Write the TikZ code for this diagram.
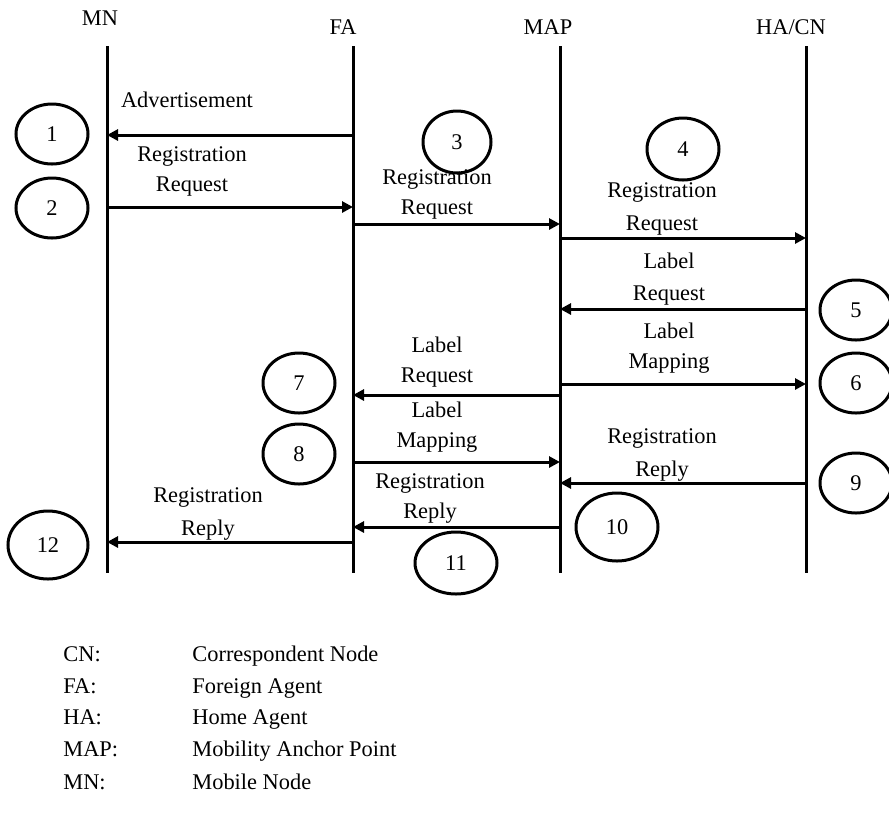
\documentclass[tikz,border=0pt]{standalone}
\usepackage{fontspec}
\setmainfont{Liberation Serif}
\usetikzlibrary{arrows.meta,shapes.geometric}
\begin{document}
\begin{tikzpicture}[x=0.5pt,y=-0.5pt,
  every node/.style={font=\fontsize{11.2}{15}\selectfont, inner sep=0pt},
  lifeline/.style={line width=1.5pt},
  msg/.style={line width=1.5pt, -{Triangle[length=5.5pt,width=5.5pt]}},
  lbl/.style={align=center},
  step circle/.style={draw, ellipse, line width=1.5pt, minimum width=36pt, minimum height=30pt},
  abbr/.style={anchor=base west}]
\useasboundingbox (0,0) rectangle (889,816);

% entity headers
\node (hMN) at (100,18) {MN};
\node (hFA) at (343,27) {FA};
\node (hMAP) at (548,27) {MAP};
\node (hHA) at (791,27) {HA/CN};

% lifelines
\coordinate (MN) at (107,46);  \coordinate (MNe) at (107,573);
\coordinate (FA) at (353,46);  \coordinate (FAe) at (353,573);
\coordinate (MAP) at (560,46); \coordinate (MAPe) at (560,573);
\coordinate (HA) at (806,46);  \coordinate (HAe) at (806,573);
\draw[lifeline] (MN) -- (MNe);
\draw[lifeline] (FA) -- (FAe);
\draw[lifeline] (MAP) -- (MAPe);
\draw[lifeline] (HA) -- (HAe);

% message levels
\coordinate (y1) at (0,135);
\coordinate (y2) at (0,207);
\coordinate (y3) at (0,224);
\coordinate (y4) at (0,238);
\coordinate (y5) at (0,309);
\coordinate (y6) at (0,384);
\coordinate (y7) at (0,395);
\coordinate (y8) at (0,462);
\coordinate (y9) at (0,483);
\coordinate (y10) at (0,527);
\coordinate (y11) at (0,542);

% messages
\draw[msg] (FA |- y1) -- (MN |- y1);
\draw[msg] (MN |- y2) -- (FA |- y2);
\draw[msg] (FA |- y3) -- (MAP |- y3);
\draw[msg] (MAP |- y4) -- (HA |- y4);
\draw[msg] (HA |- y5) -- (MAP |- y5);
\draw[msg] (MAP |- y6) -- (HA |- y6);
\draw[msg] (MAP |- y7) -- (FA |- y7);
\draw[msg] (FA |- y8) -- (MAP |- y8);
\draw[msg] (HA |- y9) -- (MAP |- y9);
\draw[msg] (MAP |- y10) -- (FA |- y10);
\draw[msg] (FA |- y11) -- (MN |- y11);

% message labels
\node (l1) at (187,100) {Advertisement};
\node[lbl] (l2) at (192,171) {Registration\\Request};
\node[lbl] (l3) at (437,194) {Registration\\Request};
\node[lbl] (l4) at (662,209) {Registration\\[1.5pt]Request};
\node[lbl] (l5) at (669,279) {Label\\[1pt]Request};
\node[lbl] (l6) at (669,348) {Label\\Mapping};
\node[lbl] (l7) at (437,362) {Label\\Request};
\node[lbl] (l8) at (437,427) {Label\\Mapping};
\node[lbl] (l9) at (662,455) {Registration\\[1.5pt]Reply};
\node[lbl] (l10) at (430,498) {Registration\\Reply};
\node[lbl] (l11) at (208,514) {Registration\\[1.5pt]Reply};

% step numbers
\node[step circle] (c1) at (52,134) {1};
\node[step circle] (c2) at (52,208) {2};
\node[step circle, minimum width=34pt, minimum height=31pt] (c3) at (457,142) {3};
\node[step circle, minimum height=31pt] (c4) at (683,149) {4};
\node[step circle] (c5) at (856,310) {5};
\node[step circle] (c6) at (856,383) {6};
\node[step circle] (c7) at (299,383) {7};
\node[step circle] (c8) at (299,454) {8};
\node[step circle] (c9) at (856,483) {9};
\node[step circle, minimum width=41pt, minimum height=34pt] (c10) at (617,527) {10};
\node[step circle, minimum width=41pt, minimum height=31pt] (c11) at (456,563) {11};
\node[step circle, minimum width=40pt, minimum height=34pt] (c12) at (48,545) {12};

% legend
\node[abbr] (a1) at (63,661) {CN:};
\node[abbr] (d1) at (192,661) {Correspondent Node};
\node[abbr] (a2) at (63,693) {FA:};
\node[abbr] (d2) at (192,693) {Foreign Agent};
\node[abbr] (a3) at (63,724) {HA:};
\node[abbr] (d3) at (192,724) {Home Agent};
\node[abbr] (a4) at (63,756) {MAP:};
\node[abbr] (d4) at (192,756) {Mobility Anchor Point};
\node[abbr] (a5) at (63,789) {MN:};
\node[abbr] (d5) at (192,789) {Mobile Node};
\end{tikzpicture}
\end{document}
